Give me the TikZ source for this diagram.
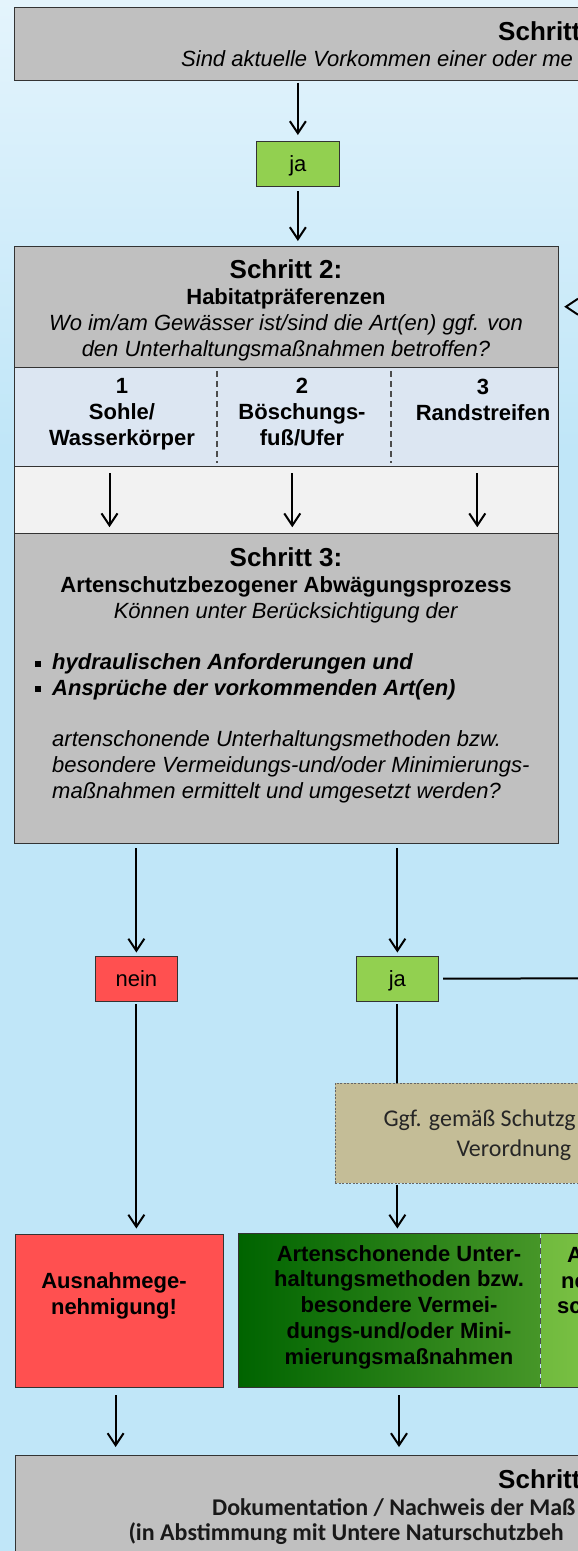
\documentclass[tikz,border=0pt]{standalone}
\usepackage{fontspec}
\setmainfont{Liberation Sans}
\newfontfamily\myriad{Carlito}
\usetikzlibrary{arrows.meta, positioning}

\definecolor{bgtop}{RGB}{228,244,252}
\definecolor{bgbot}{RGB}{192,230,248}
\definecolor{stepgray}{RGB}{192,192,192}
\definecolor{prefblue}{RGB}{220,230,242}
\definecolor{rowgray}{RGB}{242,242,242}
\definecolor{neinred}{RGB}{255,80,80}
\definecolor{jagreen}{RGB}{146,208,80}
\definecolor{ggftan}{RGB}{196,189,151}
\definecolor{gdark}{RGB}{0,100,0}
\definecolor{gmid}{RGB}{70,150,40}
\definecolor{gpale}{RGB}{112,186,62}
\definecolor{glight}{RGB}{146,208,80}

\newcommand{\stepfont}{\fontsize{26}{25.7}\selectfont\bfseries}
\newcommand{\txtfont}{\fontsize{22}{25.7}\selectfont}
\newcommand{\sqbullet}{\llap{\rule[0.12em]{0.28em}{0.28em}\hspace{0.5em}}}

\tikzstyle{box} = [rectangle, draw=black!80, line width=1.2pt, inner sep=0pt, anchor=north west]
\tikzstyle{answer} = [box, minimum width=82.5pt, minimum height=44.5pt, font=\txtfont, text height=16pt, text depth=0pt]
\tikzstyle{txt} = [inner sep=0pt, font=\txtfont, align=center, anchor=base]
\tikzstyle{txtw} = [inner sep=0pt, font=\txtfont, align=left, anchor=base west]
\tikzstyle{arrow} = [line width=2pt, -{Straight Barb[length=12pt,width=16pt]}]
\tikzstyle{link} = [line width=2pt]
\tikzstyle{divider} = [line width=1.5pt, draw=black!70, dash pattern=on 6pt off 4pt]

\begin{document}
\begin{tikzpicture}[x=1pt, y=-1pt]

% Background
\useasboundingbox (0,0) rectangle (578,1551);
\clip (0,0) rectangle (578,1551);
\shade[top color=bgtop, bottom color=bgbot] (0,0) rectangle (578,450);
\fill[bgbot] (0,450) rectangle (578,1551);

% Nodes (Schritt 1)
\node[box, fill=stepgray, minimum width=700pt, minimum height=72.5pt] (s1) at (14,7) {};
\node[txtw, font=\stepfont] (s1title) at (498,40) {Schritt};
\node[txtw, font=\txtfont\itshape] (s1q) at (181,66) {Sind aktuelle Vorkommen einer oder me};
\node[answer, fill=jagreen] (ja1) at (256,141) {ja};

% Nodes (Schritt 2) -- multi-line texts sit on their last baseline
\node[box, fill=stepgray, minimum width=544pt, minimum height=121pt] (s2) at (14,245.5) {};
\node[box, fill=prefblue, minimum width=544pt, minimum height=99pt] (s2pref) at (14,366.5) {};
\node[box, fill=rowgray, minimum width=544pt, minimum height=67.5pt] (s2row) at (14,465.5) {};
\node[txt] (s2text) at (286,356) {{\stepfont Schritt 2:}\\\textbf{Habitatpräferenzen}\\\textit{Wo im/am Gewässer ist/sind die Art(en) ggf. von}\\\textit{den Unterhaltungsmaßnahmen betroffen?}};
\node[txt, font=\txtfont\bfseries] (c1) at (122,445) {1\\Sohle/\\Wasserkörper};
\node[txt, font=\txtfont\bfseries] (c2) at (302,445) {2\\Böschungs-\\fuß/Ufer};
\node[txt, font=\txtfont\bfseries] (c3) at (483,420) {3\\Randstreifen};
\draw[divider] ([xshift=203pt,yshift=-4.5pt]s2pref.north west) -- ([xshift=203pt,yshift=3.5pt]s2pref.south west);
\draw[divider] ([xshift=377pt,yshift=-4.5pt]s2pref.north west) -- ([xshift=377pt,yshift=3.5pt]s2pref.south west);

% Nodes (Schritt 3)
\node[box, fill=stepgray, minimum width=544pt, minimum height=310pt] (s3) at (14,533) {};
\node[txt] (s3title) at (286,618) {{\stepfont Schritt 3:}\\\textbf{Artenschutzbezogener Abwägungsprozess}\\\textit{Können unter Berücksichtigung der}};
\node[txtw, font=\txtfont\bfseries\itshape] (s3list) at (52,695) {\sqbullet hydraulischen Anforderungen und\\\sqbullet Ansprüche der vorkommenden Art(en)};
\node[txtw, font=\txtfont\itshape] (s3q) at (52,798) {artenschonende Unterhaltungsmethoden bzw.\\besondere Vermeidungs-und/oder Minimierungs-\\maßnahmen ermittelt und umgesetzt werden?};

% Nodes (Antworten)
\node[answer, fill=neinred] (nein) at (94.5,956) {nein};
\node[answer, fill=jagreen] (ja2) at (355.5,956) {ja};
\node[box, fill=ggftan, draw=black!60, line width=0.8pt, dash pattern=on 2pt off 1.5pt, minimum width=400pt, minimum height=99.5pt] (ggf) at (335,1083) {};
\node[txtw, font=\myriad\fontsize{24}{30}\selectfont, text=black!85] (ggf1) at (383.3,1126.7) {Ggf. gemäß Schutzg};
\node[txtw, font=\myriad\fontsize{24}{30}\selectfont, text=black!85] (ggf2) at (456.3,1156.7) {Verordnung};

% Nodes (Ergebnisse)
\node[box, fill=neinred, minimum width=208.5pt, minimum height=153pt] (ausn) at (14.5,1233.5) {};
\node[txt, font=\txtfont\bfseries] (ausntext) at (114,1314) {Ausnahmege-\\nehmigung!};
\node[box, draw=none, left color=gdark, right color=gmid, minimum width=300.8pt, minimum height=153pt] (mass) at (238.5,1233.5) {};
\node[box, draw=none, left color=gpale, right color=glight, minimum width=160pt, minimum height=153pt] (massr) at (mass.north east) {};
\draw[line width=1.2pt, draw=black!80] (mass.north west) rectangle (massr.south east);
\draw[divider] ([yshift=-4.5pt]mass.north east) -- ([yshift=3.5pt]mass.south east);
\node[txt, font=\txtfont\bfseries] (masstext) at (399,1364) {Artenschonende Unter-\\haltungsmethoden bzw.\\besondere Vermei-\\dungs-und/oder Mini-\\mierungsmaßnahmen};
\node[txtw, font=\txtfont\bfseries] (massr1) at (567,1262) {A};
\node[txtw, font=\txtfont\bfseries] (massr2) at (561,1288) {ne};
\node[txtw, font=\txtfont\bfseries] (massr3) at (557,1313) {sc};

% Nodes (Schritt 4)
\node[box, fill=stepgray, minimum width=700pt, minimum height=150pt] (s4) at (14.5,1455) {};
\node[txtw, font=\stepfont] (s4title) at (498,1488) {Schritt};
\node[txtw, font=\myriad\bfseries\fontsize{24}{26}\selectfont, text=black!90] (s4doc) at (212,1515) {Dokumentation / Nachweis der Maß};
\node[txtw, font=\myriad\bfseries\fontsize{24}{26}\selectfont, text=black!90] (s4note) at (128.3,1540) {(in Abstimmung mit Untere Naturschutzbeh};

% Arrows (Connections)
\coordinate (out) at (600,978.25);
\coordinate (back) at (600,306.7);
\draw[arrow, shorten <=2pt, shorten >=6pt] (s1.south -| ja1.north) -- (ja1.north);
\draw[arrow, shorten <=4.5pt, shorten >=4.5pt] (ja1) -- (ja1 |- s2.north);
\draw[arrow, dash pattern=on 5pt off 40pt, shorten >=5pt] (back) -- (back -| s2.east);
\foreach \dx in {95.5, 278.3, 463.3}
  \draw[arrow, shorten <=7.5pt, shorten >=7pt] ([xshift=\dx pt]s2row.north west) -- ([xshift=\dx pt]s2row.south west);
\draw[arrow, shorten <=4pt, shorten >=3.5pt] (s3.south -| nein.north) -- (nein.north);
\draw[arrow, shorten <=4pt, shorten >=3.5pt] (s3.south -| ja2.north) -- (ja2.north);
\draw[link, shorten <=4pt] (ja2) -- (out);
\draw[link, shorten <=2.5pt] (ja2) -- (ja2 |- ggf.north);
\draw[arrow, shorten <=2.5pt, shorten >=5pt] (nein) -- (nein |- ausn.north);
\draw[arrow, shorten <=1.5pt, shorten >=5pt] (ggf.south -| ja2.south) -- (ja2 |- mass.north);
\draw[arrow, shorten <=7.5pt, shorten >=8pt] ([xshift=-3.75pt]ausn.south) -- ([xshift=-3.75pt]ausn.south |- s4.north);
\draw[arrow, shorten <=7.5pt, shorten >=8pt] (masstext |- mass.south) -- (masstext |- s4.north);

\end{tikzpicture}
\end{document}
